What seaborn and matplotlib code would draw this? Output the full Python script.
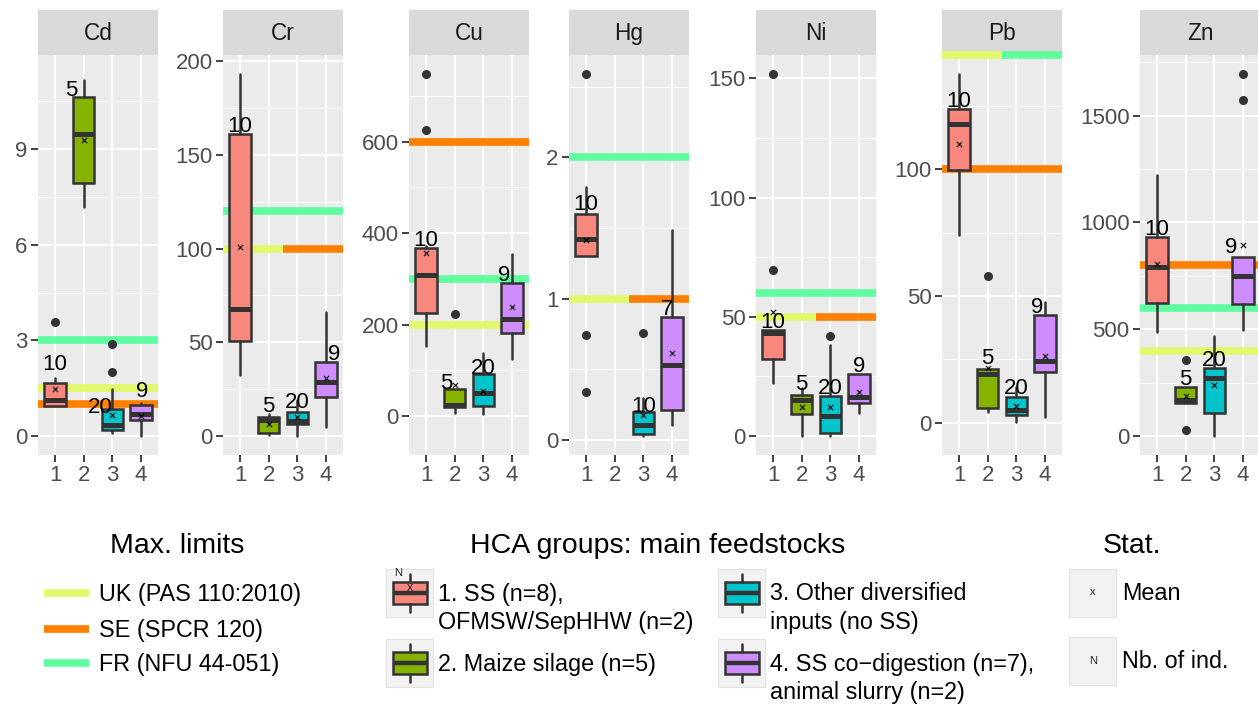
import numpy as np
import matplotlib
matplotlib.use("Agg")
import matplotlib.pyplot as plt
from matplotlib.patches import Rectangle
from matplotlib.ticker import FixedLocator, FixedFormatter
import seaborn as sns

# ---------------------------------------------------------------- data
elements = ["Cd", "Cr", "Cu", "Hg", "Ni", "Pb", "Zn"]
groups = [1, 2, 3, 4]

# box statistics per element, one entry per HCA group (None = no digestate)
whisker_low = [
    [0.95, 7.18, 0.08, 0.0],
    [32.5, 0.5, 0.0, 5.0],
    [153, 5.9, 3.7, 124],
    [1.30, None, 0.03, 0.106],
    [22.1, 0.0, 0.0, 9.5],
    [74.0, 4.1, 0.4, 2.1],
    [488, 156, 0, 496],
]
quart1 = [
    [0.95, 7.95, 0.20, 0.50],
    [50.8, 1.4, 6.5, 21.0],
    [224.6, 20.0, 21.9, 180.9],
    [1.30, None, 0.042, 0.212],
    [32.2, 9.1, 1.1, 14.0],
    [99.5, 5.7, 3.0, 20.1],
    [624, 156, 106, 616.6],
]
median = [
    [1.14, 9.47, 0.35, 0.69],
    [67.6, 8.3, 7.8, 28.6],
    [308, 23.0, 49.6, 211.5],
    [1.42, None, 0.106, 0.531],
    [43.1, 15.0, 8.4, 16.5],
    [117.8, 19.2, 5.0, 24.4],
    [792.6, 168.5, 270, 749],
]
quart3 = [
    [1.67, 10.62, 0.85, 0.97],
    [160.9, 10.4, 12.6, 39.3],
    [367, 58.4, 91.9, 290],
    [1.60, None, 0.20, 0.873],
    [44.3, 17.2, 16.8, 26.0],
    [123.7, 21.4, 10.0, 42.5],
    [931.6, 228, 317, 839.4],
]
whisker_high = [
    [1.81, 11.17, 1.47, 1.03],
    [193.1, 11.6, 19.2, 66.3],
    [372, 58.4, 138.5, 353.7],
    [1.79, None, 0.295, 1.486],
    [44.3, 20.0, 38.2, 26.0],
    [137.4, 21.4, 14.2, 47.7],
    [1222, 228, 468, 839.4],
]
means = [
    [1.47, 9.29, 0.66, 0.64],
    [101.0, 6.4, 10.0, 31.1],
    [356, 67.8, 55.3, 239],
    [1.415, None, 0.177, 0.614],
    [52.1, 12.0, 12.0, 18.6],
    [109.8, 21.7, 6.6, 26.3],
    [803.8, 188.7, 238.8, 894],
]
outliers = [
    [[3.57], [], [2.0, 2.89], []],
    [[], [], [], []],
    [[625.5, 748], [223], [], []],
    [[0.342, 0.743, 2.59], [], [0.755], []],
    [[69.6, 151.8], [], [41.9], []],
    [[], [57.8], [], []],
    [[], [28, 355.8], [], [1573, 1695]],
]
n_ind = [
    [10, 5, 20, 9],
    [10, 5, 20, 9],
    [10, 5, 20, 9],
    [10, None, 10, 7],
    [10, 5, 20, 9],
    [10, 5, 20, 9],
    [10, 5, 20, 9],
]

# maximum limit values (mg/kg DM) for each element
limit_names = ["UK (PAS 110:2010)", "SE (SPCR 120)", "FR (NFU 44-051)"]
limit_uk = [1.5, 100, 200, 1, 50, 200, 400]
limit_se = [1, 100, 600, 1, 50, 100, 800]
limit_fr = [3, 120, 300, 2, 60, 180, 600]

group_labels = [
    ["1. SS (n=8),", "OFMSW/SepHHW (n=2)"],
    ["2. Maize silage (n=5)"],
    ["3. Other diversified", "inputs (no SS)"],
    ["4. SS co\u2212digestion (n=7),", "animal slurry (n=2)"],
]

# ---------------------------------------------------------------- style
group_colors = ["#F8877E", "#86B300", "#00C5CC", "#CF8CFF"]
limit_colors = ["#E2F96C", "#FF7F00", "#5FFCA0"]
edge = "#333333"

y_limits = [(-0.596, 11.95), (-10.1, 203.2), (-85.3, 789.6), (-0.106, 2.725),
            (-8.0, 159.8), (-12.7, 145.0), (-89.0, 1783.7)]
y_major = [[0, 3, 6, 9], [0, 50, 100, 150, 200], [0, 200, 400, 600], [0, 1, 2],
           [0, 50, 100, 150], [0, 50, 100], [0, 500, 1000, 1500]]
y_minor = [[1.5, 4.5, 7.5, 10.5], [25, 75, 125, 175], [100, 300, 500, 700],
           [0.5, 1.5, 2.5], [25, 75, 125], [25, 75, 125], [250, 750, 1250, 1750]]

panel_left = [38, 223, 409, 569, 756, 942, 1140]
panel_w = 120
W, H = 1258, 706

# count labels sit just above the upper quartile; a few are shifted (pixels)
label_shift = {
    (0, 0): (0, 12.7), (0, 1): (-12, 1), (0, 2): (-12, -4), (0, 3): (1, 8),
    (1, 1): (0, 4.4), (1, 2): (0, 4), (1, 3): (8, 2.3),
    (2, 1): (-8, 0), (2, 2): (0, 0), (2, 3): (-8, 2.3),
    (3, 0): (0, 4), (3, 2): (0, 0), (3, 3): (-5, 1.7),
    (4, 1): (0, 4.7),
    (5, 1): (0, 5), (5, 2): (0, 3.3), (5, 3): (-8, 2.3),
    (6, 3): (-12, 3.3),
}

sns.set_theme(style="darkgrid", rc={
    "axes.facecolor": "#EBEBEB",
    "grid.color": "white",
    "xtick.bottom": True,
    "ytick.left": True,
})
plt.rcParams["font.family"] = ["Liberation Sans", "DejaVu Sans"]

fig = plt.figure(figsize=(W / 100, H / 100), dpi=100)

for i, el in enumerate(elements):
    x0 = panel_left[i]
    # facet strip
    sax = fig.add_axes([x0 / W, 1 - 55 / H, panel_w / W, 45 / H])
    sax.set_facecolor("#D9D9D9")
    sax.set_xticks([])
    sax.set_yticks([])
    for s in sax.spines.values():
        s.set_visible(False)
    sax.text(0.5, 0.47, el, ha="center", va="center", fontsize=16.3,
             color="#1A1A1A", transform=sax.transAxes)

    ax = fig.add_axes([x0 / W, 1 - 455 / H, panel_w / W, 400 / H])
    ymin, ymax = y_limits[i]

    # regulatory limits: coinciding values share the width of the panel
    drawn = [min(v, ymax) for v in (limit_uk[i], limit_se[i], limit_fr[i])]
    for val in sorted(set(drawn)):
        idx = [k for k, v in enumerate(drawn) if v == val]
        edges = np.linspace(0.4, 4.6, len(idx) + 1)
        for j, k in enumerate(idx):
            ax.hlines(val, edges[j], edges[j + 1], color=limit_colors[k],
                      lw=5.5, zorder=2, clip_on=False)

    stats, pos, cols, mpos, mval = [], [], [], [], []
    for g in range(4):
        if quart1[i][g] is None:
            continue
        stats.append(dict(med=median[i][g], q1=quart1[i][g], q3=quart3[i][g],
                          whislo=whisker_low[i][g], whishi=whisker_high[i][g],
                          fliers=outliers[i][g], label=str(groups[g])))
        pos.append(groups[g])
        cols.append(group_colors[g])
        mpos.append(groups[g])
        mval.append(means[i][g])

    bp = ax.bxp(stats, positions=pos, widths=0.75, patch_artist=True,
                showfliers=True, showcaps=False, zorder=3,
                boxprops=dict(edgecolor=edge, lw=1.8),
                medianprops=dict(color=edge, lw=3.6, solid_capstyle="butt"),
                whiskerprops=dict(color=edge, lw=1.8),
                flierprops=dict(marker="o", markerfacecolor=edge,
                                markeredgecolor=edge, markersize=5.5))
    for patch, c in zip(bp["boxes"], cols):
        patch.set_facecolor(c)

    sns.scatterplot(x=mpos, y=mval, marker="x", s=14, color="black",
                    linewidth=0.8, ax=ax, zorder=5, legend=False)

    for g in range(4):
        if n_ind[i][g] is None:
            continue
        dx, dy = label_shift.get((i, g), (0, 2))
        ax.annotate(str(n_ind[i][g]), xy=(groups[g], quart3[i][g]),
                    xytext=(dx, dy), textcoords="offset pixels",
                    ha="center", va="baseline", fontsize=16, color="black",
                    zorder=6)

    ax.set_xlim(0.4, 4.6)
    ax.set_ylim(ymin, ymax)
    ax.xaxis.set_major_locator(FixedLocator(groups))
    ax.xaxis.set_major_formatter(FixedFormatter([str(g) for g in groups]))
    ax.yaxis.set_major_locator(FixedLocator(y_major[i]))
    ax.yaxis.set_major_formatter(FixedFormatter([f"{t:g}" for t in y_major[i]]))
    ax.yaxis.set_minor_locator(FixedLocator(y_minor[i]))
    ax.grid(which="major", color="white", lw=1.4)
    ax.grid(which="minor", axis="y", color="white", lw=0.7)
    ax.set_axisbelow(True)
    ax.tick_params(which="major", length=5, width=1.3, color=edge,
                   labelcolor="#4D4D4D", labelsize=16, pad=2.5)
    ax.tick_params(which="minor", length=0)
    ax.set_xlabel("")
    ax.set_ylabel("")
    for s in ax.spines.values():
        s.set_visible(False)

# ---------------------------------------------------------------- legends
lax = fig.add_axes([0, 0, 1, 1], zorder=-1)
lax.set_xlim(0, W)
lax.set_ylim(H, 0)
lax.axis("off")

title_kw = dict(fontsize=20.5, va="center", ha="left", color="black")
item_kw = dict(fontsize=16.8, va="center", ha="left", color="black")

# limits legend
lax.text(110, 546, "Max. limits", **title_kw)
for name, col, yy in zip(limit_names, limit_colors, [593, 629, 663]):
    lax.plot([44, 89], [yy, yy], color=col, lw=5.5, solid_capstyle="butt")
    lax.text(99, yy + 1, name, **item_kw)


def key_background(x, y):
    lax.add_patch(Rectangle((x, y), 47, 48, facecolor="#F2F2F2",
                            edgecolor="#E2E2E2", lw=0.8))


def box_key(x, y, color):
    key_background(x, y)
    cx = x + 23.5
    lax.plot([cx, cx], [y + 5, y + 13], color=edge, lw=1.8)
    lax.plot([cx, cx], [y + 35, y + 43], color=edge, lw=1.8)
    lax.add_patch(Rectangle((x + 6.5, y + 13), 34, 22, facecolor=color,
                            edgecolor=edge, lw=1.8))
    lax.plot([x + 6.5, x + 40.5], [y + 24, y + 24], color=edge, lw=3.2,
             solid_capstyle="butt")


# groups legend
lax.text(470, 546, "HCA groups: main feedstocks", **title_kw)
key_pos = [(386, 569), (386, 639), (718, 569), (718, 639)]
for g, ((kx, ky), lines) in enumerate(zip(key_pos, group_labels)):
    box_key(kx, ky, group_colors[g])
    for j, line in enumerate(lines):
        lax.text(kx + 52, ky + 25 + 29 * j, line, **item_kw)
lax.text(386 + 12, 569 + 4, "N", fontsize=8, ha="center", va="center")
lax.text(386 + 23.5, 569 + 19, "x", fontsize=9, ha="center", va="center")

# statistics legend
lax.text(1103, 546, "Stat.", **title_kw)
key_background(1069, 569)
key_background(1069, 637)
lax.text(1093, 592, "x", fontsize=8, ha="center", va="center")
lax.text(1093, 661, "N", fontsize=8, ha="center", va="center")
lax.text(1122, 594, "Mean", **item_kw)
lax.text(1122, 662, "Nb. of ind.", **item_kw)

fig.savefig("out.png", dpi=100)
